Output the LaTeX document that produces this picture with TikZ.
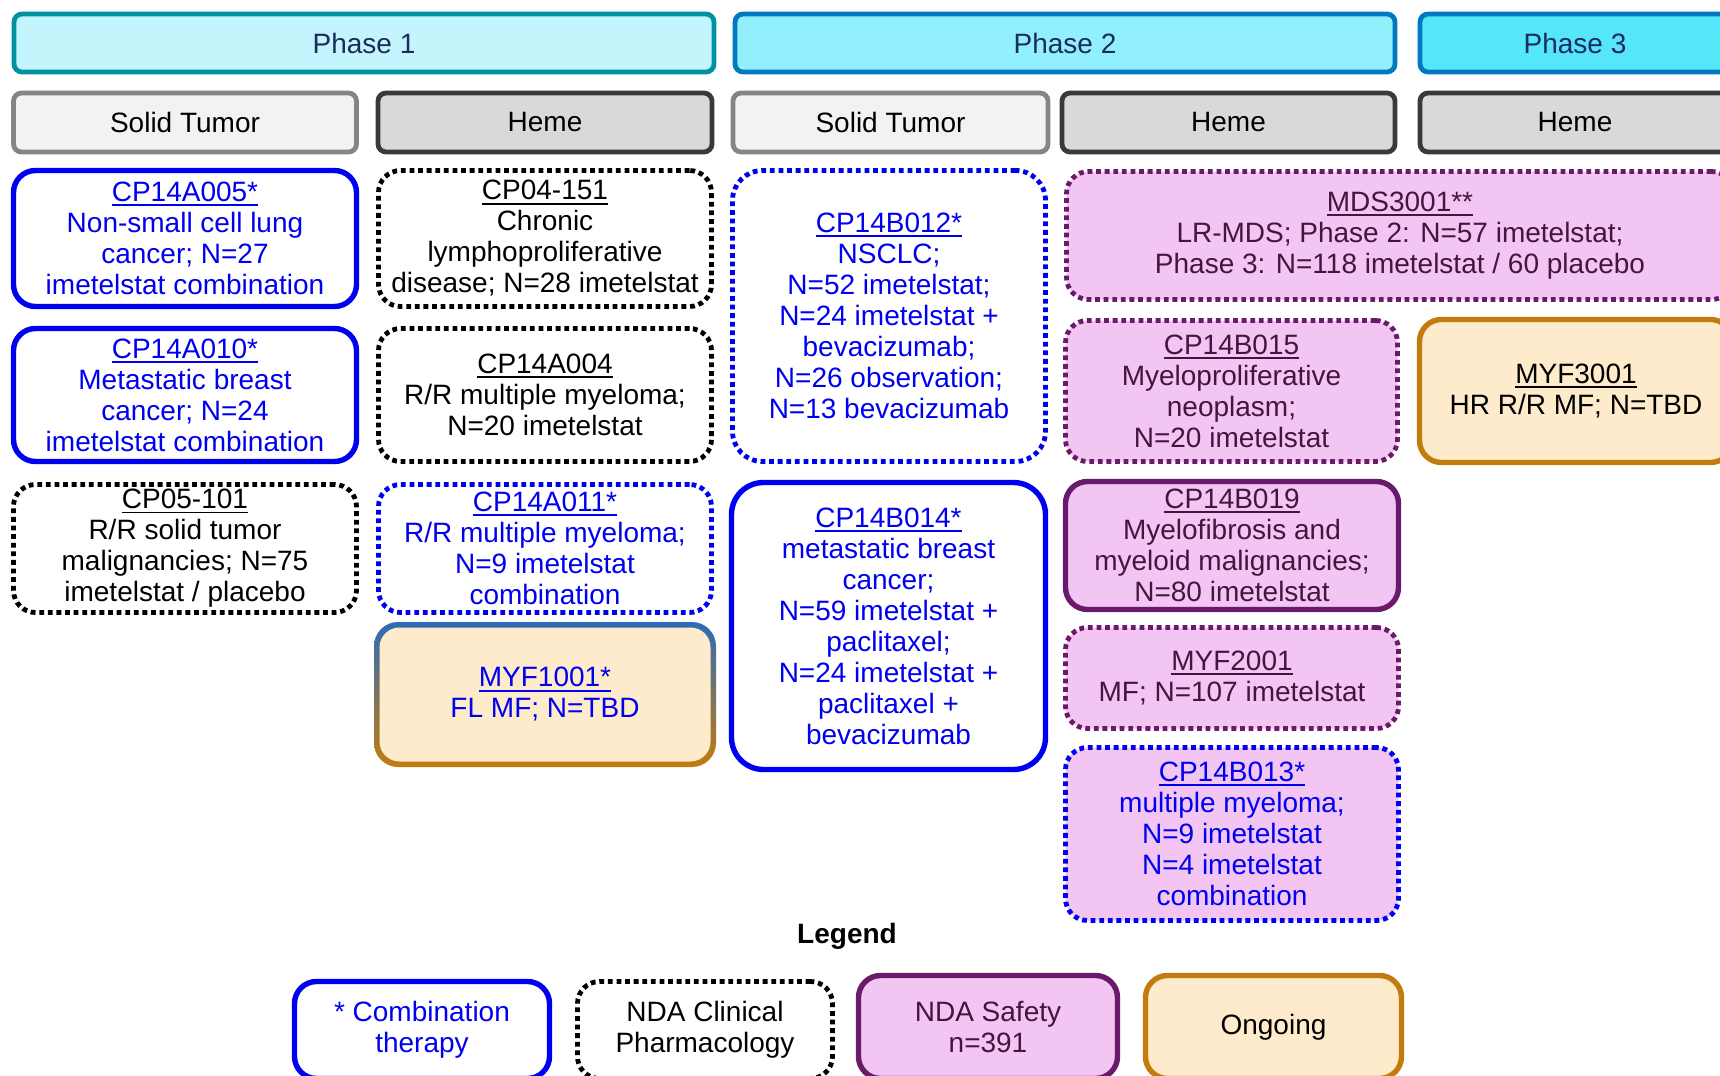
\documentclass[tikz,border=0pt]{standalone}
\usepackage{fontspec}
\setmainfont{Liberation Sans}

\definecolor{phaseA}{HTML}{C5F5FC}
\definecolor{phaseB}{HTML}{92EFFC}
\definecolor{phaseC}{HTML}{55E6FA}
\definecolor{tealline}{HTML}{0092A2}
\definecolor{phaseline}{HTML}{0079C1}
\definecolor{navytext}{HTML}{1B2B5E}
\definecolor{solidfill}{HTML}{F2F2F2}
\definecolor{solidline}{HTML}{858585}
\definecolor{hemefill}{HTML}{D9D9D9}
\definecolor{hemeline}{HTML}{3A3A3A}
\definecolor{bluetext}{HTML}{0000F0}
\definecolor{pinkfill}{HTML}{F2C5F2}
\definecolor{purpleline}{HTML}{6B1A6B}
\definecolor{purpletext}{HTML}{451540}
\definecolor{peach}{HTML}{FDEBCB}
\definecolor{orangeline}{HTML}{C27C0E}
\definecolor{gradtop}{HTML}{2E6CB4}

% underlined study id, a bit thicker than \underline
\newcommand{\studyid}[1]{\setbox0\hbox{#1}\rlap{\rule[-2.3pt]{\wd0}{0.9pt}}\box0}

\tikzset{
  box/.style={rectangle, rounded corners=11pt, align=center, inner sep=2pt,
    font=\fontsize{14}{15.5}\selectfont},
  head/.style={box, rounded corners=4pt, line width=2.4pt},
  phaseone/.style={head, draw=tealline, fill=phaseA, text=navytext},
  phasetwo/.style={head, draw=phaseline, fill=phaseB, text=navytext},
  phasethree/.style={head, draw=phaseline, fill=phaseC, text=navytext},
  solidhead/.style={head, draw=solidline, fill=solidfill},
  hemehead/.style={head, draw=hemeline, fill=hemefill},
  dots/.style={line width=2.4pt, dash pattern=on 2.4pt off 1.9pt},
  combobox/.style={box, draw=bluetext, line width=2.7pt, fill=white, text=bluetext},
  combodots/.style={box, dots, draw=bluetext, text=bluetext},
  pkbox/.style={box, dots, draw=black, text=black},
  safetybox/.style={box, draw=purpleline, fill=pinkfill, line width=2.7pt, text=purpletext},
  safetydots/.style={box, dots, draw=purpleline, fill=pinkfill, text=purpletext},
  ongoingbox/.style={box, draw=orangeline, fill=peach, line width=2.7pt, text=black}
}

\begin{document}
\begin{tikzpicture}[x=0.5pt,y=-0.5pt]
    \useasboundingbox (0,0) rectangle (1720,1076);
    \clip (0,0) rectangle (1720,1076);

    % Phase headers
    \node[phaseone, minimum width=350pt, minimum height=29pt] (ph1) at (364,43) {Phase 1};
    \node[phasetwo, minimum width=330pt, minimum height=29pt] (ph2) at (1065,43) {Phase 2};
    \node[phasethree, minimum width=155pt, minimum height=29pt] (ph3) at (1575,43) {Phase 3};

    % Tumor type headers
    \node[solidhead, minimum width=171.5pt, minimum height=29.5pt] (solid1) at (185,122.5) {Solid Tumor};
    \node[hemehead, minimum width=167pt, minimum height=29.5pt] (heme1) at (545,122.5) {Heme};
    \node[solidhead, minimum width=157.5pt, minimum height=29.5pt] (solid2) at (890.5,122.5) {Solid Tumor};
    \node[hemehead, minimum width=166.5pt, minimum height=29.5pt] (heme2) at (1228.5,122.5) {Heme};
    \node[hemehead, minimum width=155pt, minimum height=29.5pt] (heme3) at (1575,122.5) {Heme};

    % Phase 1, solid tumor
    \node[combobox, minimum width=171.5pt, minimum height=68pt] (a005) at (185,238.5)
        {\studyid{CP14A005*}\\Non-small cell lung\\cancer; N=27\\imetelstat combination};
    \node[combobox, minimum width=171.5pt, minimum height=66.5pt] (a010) at (185,395)
        {\studyid{CP14A010*}\\Metastatic breast\\cancer; N=24\\imetelstat combination};
    \node[pkbox, minimum width=171.5pt, minimum height=64pt] (p101) at (185,548.5)
        {\studyid{CP05-101}\\R/R solid tumor\\malignancies; N=75\\imetelstat / placebo};

    % Phase 1, heme
    \node[pkbox, minimum width=166.5pt, minimum height=68pt] (p151) at (545,238.5)
        {\studyid{CP04-151}\\Chronic\\lymphoproliferative\\disease; N=28 imetelstat};
    \node[pkbox, minimum width=166.5pt, minimum height=66.5pt] (a004) at (545,395)
        {\studyid{CP14A004}\\R/R multiple myeloma;\\N=20 imetelstat};
    \node[combodots, minimum width=166.5pt, minimum height=64pt] (a011) at (545,548.5)
        {\studyid{CP14A011*}\\R/R multiple myeloma;\\N=9 imetelstat\\combination};

    % ongoing box with a blue to orange border
    \shade[top color=gradtop, bottom color=orangeline, rounded corners=12pt] (374,622) rectangle (716,767);
    \fill[peach, rounded corners=10pt] (379.5,627.5) rectangle (710.5,761.5);
    \node[box, text=bluetext] (myf1001) at (545,694.5) {\studyid{MYF1001*}\\FL MF; N=TBD};

    % Phase 2, solid tumor
    \node[combodots, rounded corners=15pt, minimum width=156.5pt, minimum height=145.5pt] (b012) at (889,316)
        {\studyid{CP14B012*}\\NSCLC;\\N=52 imetelstat;\\N=24 imetelstat +\\bevacizumab;\\N=26 observation;\\N=13 bevacizumab};
    \node[combobox, rounded corners=16pt, minimum width=157pt, minimum height=143.5pt] (b014) at (888.5,626)
        {\studyid{CP14B014*}\\metastatic breast\\cancer;\\N=59 imetelstat +\\paclitaxel;\\N=24 imetelstat +\\paclitaxel +\\bevacizumab};

    % Phase 2 and 3, heme
    \node[safetydots, minimum width=333.5pt, minimum height=64pt] (mds3001) at (1400,235.5)
        {\studyid{MDS3001**}\\LR-MDS; Phase 2: N=57 imetelstat;\\Phase 3: N=118 imetelstat / 60 placebo};
    \node[safetydots, minimum width=166pt, minimum height=70.5pt] (b015) at (1231.5,391)
        {\studyid{CP14B015}\\Myeloproliferative\\neoplasm;\\N=20 imetelstat};
    \node[safetybox, minimum width=166.5pt, minimum height=64pt] (b019) at (1232,545.5)
        {\studyid{CP14B019}\\Myelofibrosis and\\myeloid malignancies;\\N=80 imetelstat};
    \node[safetydots, minimum width=166.5pt, minimum height=50.5pt] (myf2001) at (1232,678)
        {\studyid{MYF2001}\\MF; N=107 imetelstat};
    \node[combodots, fill=pinkfill, minimum width=166.5pt, minimum height=86.5pt] (b013) at (1232,834)
        {\studyid{CP14B013*}\\multiple myeloma;\\N=9 imetelstat\\N=4 imetelstat\\combination};
    \node[ongoingbox, minimum width=156.5pt, minimum height=71.5pt] (myf3001) at (1576,391)
        {\studyid{MYF3001}\\HR R/R MF; N=TBD};

    % Legend
    \node[font=\bfseries\fontsize{14}{16}\selectfont] (legend) at (847,936) {Legend};
    \node[combobox, minimum width=127.5pt, minimum height=48.5pt] (lgcombo) at (422,1030)
        {* Combination\\therapy};
    \node[pkbox, fill=white, minimum width=127.5pt, minimum height=48.5pt] (lgpk) at (705,1030)
        {NDA Clinical\\Pharmacology};
    \node[safetybox, minimum width=129.5pt, minimum height=51.5pt] (lgsafety) at (988,1027)
        {NDA Safety\\n=391};
    \node[ongoingbox, minimum width=128pt, minimum height=51.5pt] (lgongoing) at (1273.5,1027)
        {Ongoing};
\end{tikzpicture}
\end{document}
